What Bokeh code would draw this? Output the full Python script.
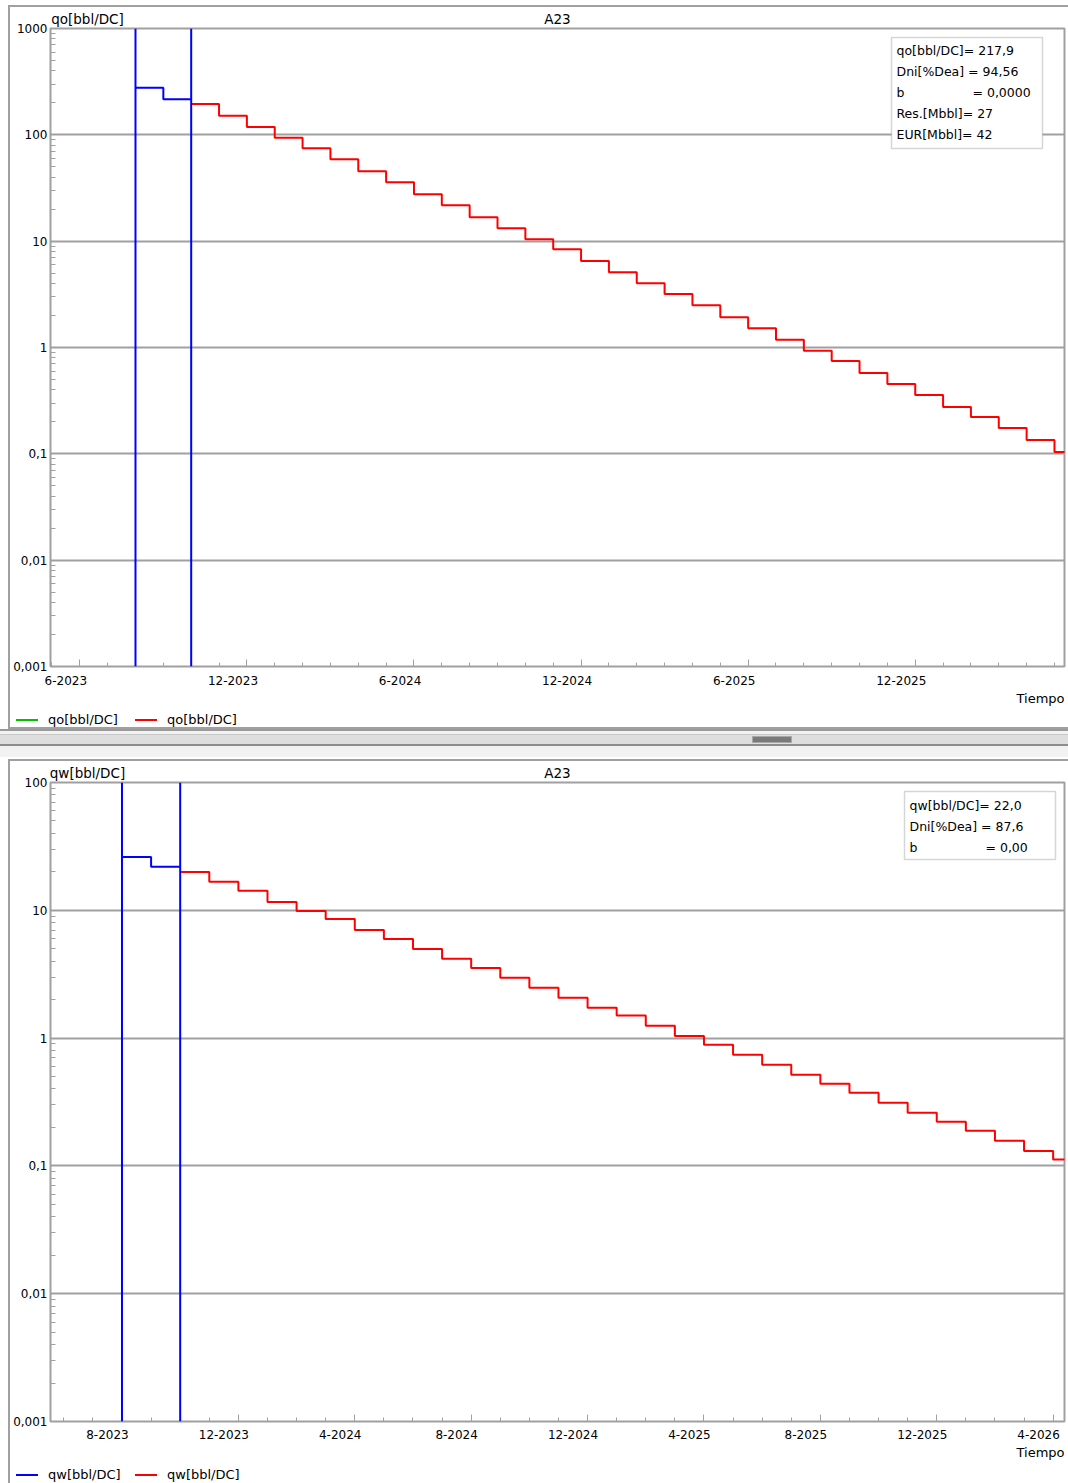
from bokeh.plotting import figure
from bokeh.layouts import column
from bokeh.models import (Span, Label, BoxAnnotation, LinearAxis,
                          FixedTicker, CustomJSTickFormatter, Div, Range1d)
from bokeh.embed import file_html
from bokeh.resources import INLINE
import math

FONT = "DejaVu Sans"
GRAY = "#a0a0a0"
RED = "#ff0000"
BLUE = "#0000ff"
GREEN = "#00c000"

# ---------------- data (month index: 0 = Jan-2023) ----------------
hist_months = [7, 8]            # Aug-2023, Sep-2023
forecast_start = 9              # Oct-2023

qo_hist = [277.7, 215.6]
qo_forecast = [194.8, 151.5, 118.4, 94.1, 74.7, 58.9, 45.4, 35.8, 27.6, 21.8,
               16.8, 13.2, 10.4, 8.40, 6.50, 5.11, 4.03, 3.18, 2.50, 1.93,
               1.52, 1.18, 0.93, 0.747, 0.575, 0.454, 0.357, 0.276, 0.222, 0.175,
               0.135, 0.104]

qw_hist = [26.1, 21.9]
qw_forecast = [19.9, 16.7, 14.2, 11.6, 9.88, 8.55, 7.02, 5.97, 4.99, 4.17,
               3.54, 2.97, 2.48, 2.07, 1.73, 1.50, 1.25, 1.04, 0.888, 0.741,
               0.618, 0.516, 0.440, 0.374, 0.312, 0.261, 0.222, 0.188, 0.157, 0.131,
               0.112]

top_tick_months = [5, 11, 17, 23, 29, 35]
top_tick_labels = ["6-2023", "12-2023", "6-2024", "12-2024", "6-2025", "12-2025"]
bot_tick_months = [7, 11, 15, 19, 23, 27, 31, 35, 39]
bot_tick_labels = ["8-2023", "12-2023", "4-2024", "8-2024", "12-2024", "4-2025",
                   "8-2025", "12-2025", "4-2026"]

qo_y_ticks = [0.001, 0.01, 0.1, 1, 10, 100, 1000]
qo_y_labels = ["0,001", "0,01", "0,1", "1", "10", "100", "1000"]
qw_y_ticks = [0.001, 0.01, 0.1, 1, 10, 100]
qw_y_labels = ["0,001", "0,01", "0,1", "1", "10", "100"]

chart_title = "A23"
x_title = "Tiempo"
qo_name = "qo[bbl/DC]"
qw_name = "qw[bbl/DC]"
qo_legend = [(qo_name, GREEN), (qo_name, RED)]
qw_legend = [(qw_name, BLUE), (qw_name, RED)]
qo_info = [("qo[bbl/DC]= 217,9", ""), ("Dni[%Dea] = 94,56", ""), ("b", "= 0,0000"),
           ("Res.[Mbbl]= 27", ""), ("EUR[Mbbl]= 42", "")]
qw_info = [("qw[bbl/DC]= 22,0", ""), ("Dni[%Dea] = 87,6", ""), ("b", "= 0,00")]

W = 1068
FL, FR = 50, 1064   # frame left / right in pixels
LINE_IMG = "linear-gradient(#a0a0a0,#a0a0a0)"


def lbl(x, y, text, size="12.5px", align="left"):
    return Label(x=x, y=y, x_units="canvas", y_units="canvas", text=text,
                 text_font=FONT, text_font_size=size, text_color="black",
                 text_align=align, text_baseline="middle")


def css_lines(lines):
    # lines: list of (x, y, w, h) gray rectangles painted behind the canvas
    return {"background-color": "white",
            "background-image": ",".join([LINE_IMG] * len(lines)),
            "background-size": ",".join(f"{w}px {h}px" for (_, _, w, h) in lines),
            "background-position": ",".join(f"{x}px {y}px" for (x, y, _, _) in lines),
            "background-repeat": "no-repeat"}


def make_panel(H, bt, bb, xr, y_ticks, y_labels, tick_months, tick_labels,
               hist, fc, name, info, box, info_x, info_x2, info_y0, css, lab_standoff):
    p = figure(width=W, height=H, x_range=Range1d(*xr),
               y_range=Range1d(y_ticks[0], y_ticks[-1]), y_axis_type="log",
               x_axis_location=None, output_backend="svg", toolbar_location=None,
               min_border_left=FL, min_border_right=W - FR, min_border_top=bt,
               min_border_bottom=bb)
    p.styles = css
    p.outline_line_color = GRAY
    p.outline_line_width = 2
    p.background_fill_color = "white"
    p.border_fill_color = None
    p.xgrid.visible = False

    yticker = FixedTicker(ticks=y_ticks,
                          minor_ticks=[m * t for t in y_ticks[:-1] for m in range(2, 10)])
    yax = p.yaxis[0]
    yax.ticker = yticker
    yax.formatter = CustomJSTickFormatter(args=dict(vals=y_ticks, labs=y_labels), code="""
        for (let i = 0; i < vals.length; i++) {
          if (Math.abs(Math.log10(tick) - Math.log10(vals[i])) < 1e-6) return labs[i];
        }
        return "";""")
    yax.axis_line_color = None
    yax.major_tick_in = 0
    yax.major_tick_out = 0
    yax.minor_tick_in = 5
    yax.minor_tick_out = 0
    yax.minor_tick_line_color = GRAY
    yax.major_label_standoff = 3
    yax.major_label_text_font = FONT
    yax.major_label_text_font_size = "12px"
    yax.major_label_text_color = "black"

    p.ygrid.ticker = FixedTicker(ticks=y_ticks)
    p.ygrid.grid_line_color = GRAY
    p.ygrid.grid_line_width = 2

    # header: series name at the left, chart title in the centre
    px2x = lambda px: xr[0] + (px - FL) / (FR - FL) * (xr[1] - xr[0])
    head_pos = [px2x(FL + 37), (xr[0] + xr[1]) / 2]
    head_labs = [name, chart_title]
    head_axis = LinearAxis(
        ticker=FixedTicker(ticks=head_pos, minor_ticks=[]),
        formatter=CustomJSTickFormatter(args=dict(pos=head_pos, labs=head_labs), code="""
            for (let i = 0; i < pos.length; i++) { if (Math.abs(pos[i] - tick) < 1e-9) return labs[i]; }
            return "";"""),
        axis_line_color=None, major_tick_line_color=None, minor_tick_line_color=None,
        major_tick_in=0, major_tick_out=0, minor_tick_in=0, minor_tick_out=0,
        major_label_standoff=2, major_label_text_font=FONT,
        major_label_text_font_size="13.5px", major_label_text_color="black")
    p.add_layout(head_axis, "above")

    # x tick marks (inside)
    tick_axis = LinearAxis(
        ticker=FixedTicker(ticks=tick_months,
                           minor_ticks=list(range(math.ceil(xr[0]), math.floor(xr[1]) + 1))),
        formatter=CustomJSTickFormatter(code="return ''"),
        axis_line_color=None, major_tick_in=7, major_tick_out=0,
        minor_tick_in=4, minor_tick_out=0, major_tick_line_color=GRAY,
        minor_tick_line_color=GRAY, major_label_standoff=0,
        major_label_text_font_size="1px")
    p.add_layout(tick_axis, "below")
    # x labels (centered half a month before the tick)
    lab_pos = [m - 0.5 for m in tick_months]
    lab_axis = LinearAxis(
        ticker=FixedTicker(ticks=lab_pos, minor_ticks=[]),
        formatter=CustomJSTickFormatter(args=dict(pos=lab_pos, labs=tick_labels), code="""
            for (let i = 0; i < pos.length; i++) { if (Math.abs(pos[i] - tick) < 1e-6) return labs[i]; }
            return "";"""),
        axis_line_color=None, major_tick_line_color=None, minor_tick_line_color=None,
        major_tick_in=0, major_tick_out=0, minor_tick_in=0, minor_tick_out=0,
        major_label_standoff=lab_standoff, major_label_text_font=FONT,
        major_label_text_font_size="12px", major_label_text_color="black")
    p.add_layout(lab_axis, "below")

    # history boundaries and steps
    p.add_layout(Span(location=hist_months[0], dimension="height", line_color=BLUE, line_width=2))
    p.add_layout(Span(location=forecast_start, dimension="height", line_color=BLUE, line_width=2))
    p.step(x=hist_months + [forecast_start], y=hist + [hist[-1]], mode="after",
           line_color=BLUE, line_width=2)
    fx = [forecast_start + i for i in range(len(fc) + 1)]
    p.step(x=fx, y=fc + [fc[-1]], mode="after", line_color=RED, line_width=2)

    # info box
    l, r, t, b = box
    p.add_layout(BoxAnnotation(left=l, right=r, top=t, bottom=b,
                               left_units="canvas", right_units="canvas",
                               top_units="canvas", bottom_units="canvas",
                               fill_color="white", fill_alpha=1,
                               line_color="#787878", line_width=1.5))
    for i, (t1, t2) in enumerate(info):
        y = info_y0 + 21 * i
        p.add_layout(lbl(info_x, y, t1))
        if t2:
            p.add_layout(lbl(info_x2, y, t2))
    return p


def make_strip(H, tiempo_y):
    s = figure(width=W, height=H, x_range=Range1d(0, W), y_range=Range1d(0, H),
               x_axis_location=None, y_axis_location=None, output_backend="svg",
               toolbar_location=None, min_border=0, min_border_left=0,
               min_border_right=0, min_border_top=0, min_border_bottom=0)
    s.styles = css_lines([(8, 0, 2, H)])
    s.outline_line_color = None
    s.background_fill_color = None
    s.border_fill_color = None
    s.grid.visible = False
    s.add_layout(lbl(FR, tiempo_y, x_title, size="13px", align="right"))
    return s


def make_legend(H, items, mid, bottom_line):
    parts = [f'<div style="position:absolute;left:8px;top:0;width:2px;height:{H}px;background:{GRAY}"></div>']
    if bottom_line:
        parts.append(f'<div style="position:absolute;left:8px;top:{H - 2}px;width:{W}px;height:2px;background:{GRAY}"></div>')
    x = 16
    for text, color in items:
        parts.append(f'<div style="position:absolute;left:{x}px;top:{mid - 1}px;width:22px;height:2px;background:{color}"></div>')
        parts.append(f'<div style="position:absolute;left:{x + 32}px;top:{mid - 9}px;height:18px;line-height:18px;white-space:nowrap">{text}</div>')
        x += 119
    html = (f'<div style="position:relative;width:{W}px;height:{H}px;background:white;'
            f'font-family:\'{FONT}\';font-size:13px;color:black;overflow:hidden">' + "".join(parts) + "</div>")
    return Div(width=W, height=H, margin=0, text=html)


top = make_panel(690, 28, 24, (3.948, 40.36), qo_y_ticks, qo_y_labels,
                 top_tick_months, top_tick_labels, qo_hist, qo_forecast, qo_name,
                 qo_info, (891, 1042, 37, 148), 896, 972, 50,
                 css_lines([(8, 5, 2, 685), (8, 5, W, 2)]), 9)
top_strip = make_strip(21, 8)
top_leg = make_legend(18, qo_legend, 9, True)

bot = make_panel(687, 25, 23, (4.543, 39.39), qw_y_ticks, qw_y_labels,
                 bot_tick_months, bot_tick_labels, qw_hist, qw_forecast, qw_name,
                 qw_info, (904, 1055, 34, 102), 909, 985, 48,
                 css_lines([(8, 2, 2, 685), (8, 2, W, 2)]), 8)
bot_strip = make_strip(21, 8)
bot_leg = make_legend(18, qw_legend, 10, False)

sep = Div(width=W, height=28, margin=0, text="""
<div style="position:relative;width:1068px;height:28px;background:#f2f2f2;">
  <div style="position:absolute;left:0;top:0;width:1068px;height:2px;background:#9a9a9a"></div>
  <div style="position:absolute;left:0;top:5px;width:1068px;height:12px;background:#dedede;border-top:1px solid #c8c8c8;border-bottom:2px solid #8c8c8c"></div>
  <div style="position:absolute;left:752px;top:7px;width:40px;height:7px;background:#7a7a7a;border:1px solid #a8a8a8"></div>
</div>""")

layout = column(top, top_strip, top_leg, sep, bot, bot_strip, bot_leg, spacing=0)
open("out.html", "w").write(file_html(layout, INLINE))
